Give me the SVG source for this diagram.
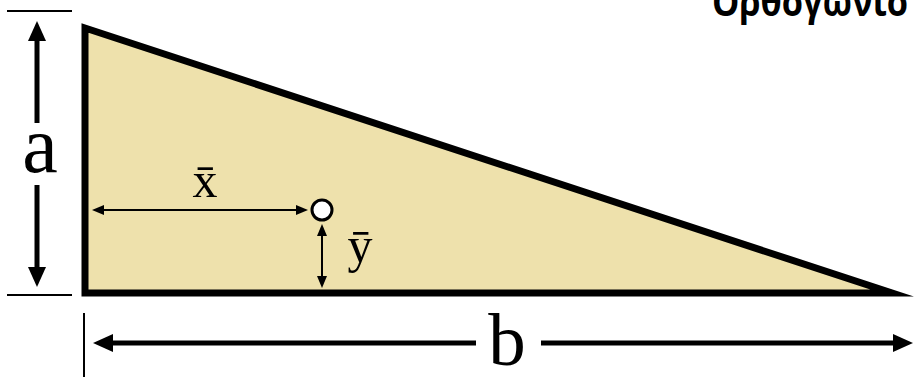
<svg xmlns="http://www.w3.org/2000/svg" width="914" height="377" viewBox="0 0 914 377">
<style>
.ext{stroke:#000;stroke-width:2;fill:none}
.thick{stroke:#000;stroke-width:5;fill:none}
.thin{stroke:#000;stroke-width:2;fill:none}
.head{fill:#000;stroke:none}
.lbl{font-family:"Liberation Serif","Times New Roman",serif;fill:#000}
.title{font-family:"Open Sans","Noto Sans",sans-serif;font-weight:bold;fill:#000}
</style>
<rect width="914" height="377" fill="#fff"/>
<g id="title"><text class="title" x="712" y="16" font-size="40" textLength="196" lengthAdjust="spacingAndGlyphs">Ορθογώνιο</text></g>
<g id="triangle">
<polygon points="85,28 85,293 892,293" fill="#EEE1AC" stroke="#000" stroke-width="7" stroke-linejoin="miter" stroke-miterlimit="10"/>
</g>
<g id="centroid"><circle cx="322" cy="210" r="10" fill="#fff" stroke="#000" stroke-width="3"/></g>
<g id="connectors">
<line class="ext" x1="7" y1="11" x2="72" y2="11"/>
<line class="ext" x1="7" y1="295" x2="72" y2="295"/>
<line class="thick" x1="37" y1="38" x2="37" y2="123"/>
<line class="thick" x1="37" y1="185" x2="37" y2="270"/>
<polygon class="head" points="37,21 28,41 46,41"/>
<polygon class="head" points="37,287 28,267 46,267"/>
<line class="thin" x1="100" y1="210" x2="300" y2="210"/>
<polygon class="head" points="92,210 104,205 104,215"/>
<polygon class="head" points="308,210 296,205 296,215"/>
<line class="thin" x1="322" y1="232" x2="322" y2="280"/>
<polygon class="head" points="322,224 317,236 327,236"/>
<polygon class="head" points="322,288 317,276 327,276"/>
<line class="ext" x1="84" y1="313" x2="84" y2="377"/>
<line class="thick" x1="110" y1="343" x2="476" y2="343"/>
<line class="thick" x1="541" y1="343" x2="896" y2="343"/>
<polygon class="head" points="93,343 113,334 113,352"/>
<polygon class="head" points="913,343 893,334 893,352"/>
</g>
<g id="labels">
<text class="lbl" x="40" y="172" font-size="80" text-anchor="middle">a</text>
<text class="lbl" x="205" y="197" font-size="50" text-anchor="middle">x̄</text>
<text class="lbl" x="360" y="262" font-size="50" text-anchor="middle">ȳ</text>
<text class="lbl" x="507" y="365" font-size="75" text-anchor="middle">b</text>
</g>
</svg>
